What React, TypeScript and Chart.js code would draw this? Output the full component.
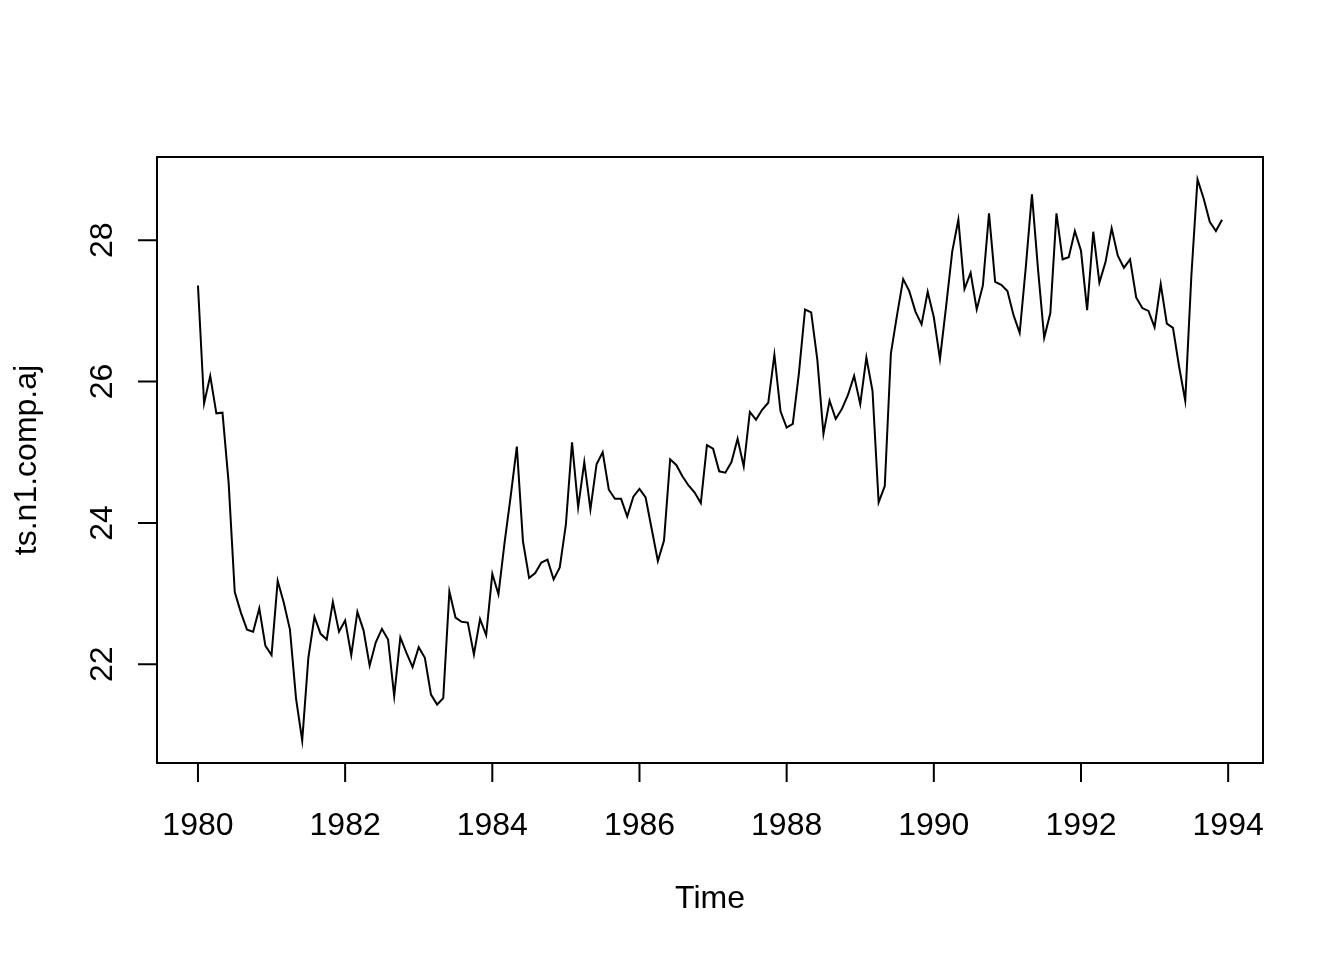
import React, { useEffect, useRef } from "react";
import { Chart, registerables } from "chart.js";

Chart.register(...registerables);

const startYear = 1980;
const frequency = 12;

const v1980 = [27.36, 25.69, 26.08, 25.55, 25.56, 24.57, 23.02, 22.73, 22.49, 22.46, 22.79, 22.26];
const v1981 = [22.13, 23.18, 22.87, 22.49, 21.51, 20.92, 22.09, 22.67, 22.43, 22.35, 22.88, 22.46];
const v1982 = [22.62, 22.13, 22.74, 22.48, 21.98, 22.31, 22.5, 22.35, 21.55, 22.38, 22.16, 21.96];
const v1983 = [22.24, 22.09, 21.57, 21.43, 21.52, 23.03, 22.66, 22.6, 22.59, 22.14, 22.64, 22.41];
const v1984 = [23.28, 22.99, 23.72, 24.38, 25.08, 23.74, 23.22, 23.29, 23.44, 23.48, 23.2, 23.37];
const v1985 = [23.98, 25.14, 24.22, 24.86, 24.19, 24.83, 25.0, 24.47, 24.34, 24.34, 24.09, 24.37];
const v1986 = [24.48, 24.36, 23.91, 23.46, 23.75, 24.9, 24.82, 24.66, 24.53, 24.43, 24.28, 25.1];
const v1987 = [25.05, 24.73, 24.71, 24.86, 25.19, 24.8, 25.57, 25.46, 25.6, 25.7, 26.38, 25.58];
const v1988 = [25.35, 25.4, 26.12, 27.02, 26.98, 26.31, 25.26, 25.73, 25.47, 25.61, 25.81, 26.08];
const v1989 = [25.68, 26.34, 25.87, 24.29, 24.52, 26.4, 26.94, 27.45, 27.28, 26.99, 26.81, 27.27];
const v1990 = [26.91, 26.32, 27.06, 27.84, 28.29, 27.31, 27.54, 27.02, 27.36, 28.38, 27.41, 27.37];
const v1991 = [27.28, 26.94, 26.69, 27.62, 28.65, 27.58, 26.62, 26.97, 28.38, 27.73, 27.76, 28.13];
const v1992 = [27.85, 27.01, 28.12, 27.4, 27.69, 28.17, 27.78, 27.61, 27.73, 27.19, 27.04, 27.0];
const v1993 = [26.77, 27.38, 26.82, 26.76, 26.21, 25.73, 27.5, 28.86, 28.59, 28.26, 28.13, 28.29];

const values = [
  ...v1980, ...v1981, ...v1982, ...v1983, ...v1984, ...v1985, ...v1986,
  ...v1987, ...v1988, ...v1989, ...v1990, ...v1991, ...v1992, ...v1993,
];

const xTicks = [1980, 1982, 1984, 1986, 1988, 1990, 1992, 1994];
const yTicks = [22, 24, 26, 28];
const xTitle = "Time";
const yTitle = "ts.n1.comp.aj";

const FONT = '32px "Liberation Sans", Arial, Helvetica, sans-serif';

const rAxesPlugin = {
  id: "rAxes",
  afterDraw(chart: any) {
    const ctx = chart.ctx;
    const area = chart.chartArea;
    const xs = chart.scales.x;
    const ys = chart.scales.y;
    ctx.save();
    ctx.strokeStyle = "#000";
    ctx.fillStyle = "#000";
    ctx.lineWidth = 2;
    // box
    ctx.strokeRect(area.left, area.top, area.right - area.left, area.bottom - area.top);
    // x axis
    const x0 = xs.getPixelForValue(xTicks[0]);
    const x1 = xs.getPixelForValue(xTicks[xTicks.length - 1]);
    ctx.beginPath();
    ctx.moveTo(x0, area.bottom);
    ctx.lineTo(x1, area.bottom);
    xTicks.forEach((t) => {
      const px = xs.getPixelForValue(t);
      ctx.moveTo(px, area.bottom);
      ctx.lineTo(px, area.bottom + 19);
    });
    // y axis
    const y0 = ys.getPixelForValue(yTicks[0]);
    const y1 = ys.getPixelForValue(yTicks[yTicks.length - 1]);
    ctx.moveTo(area.left, y0);
    ctx.lineTo(area.left, y1);
    yTicks.forEach((t) => {
      const py = ys.getPixelForValue(t);
      ctx.moveTo(area.left, py);
      ctx.lineTo(area.left - 19, py);
    });
    ctx.stroke();

    ctx.font = FONT;
    ctx.textAlign = "center";
    ctx.textBaseline = "alphabetic";
    xTicks.forEach((t) => {
      ctx.fillText(String(t), xs.getPixelForValue(t), area.bottom + 72);
    });
    yTicks.forEach((t) => {
      const py = ys.getPixelForValue(t);
      ctx.save();
      ctx.translate(area.left - 45, py);
      ctx.rotate(-Math.PI / 2);
      ctx.fillText(String(t), 0, 0);
      ctx.restore();
    });
    ctx.fillText(xTitle, (area.left + area.right) / 2, area.bottom + 145);
    ctx.save();
    ctx.translate(area.left - 121.5, (area.top + area.bottom) / 2);
    ctx.rotate(-Math.PI / 2);
    ctx.fillText(yTitle, 0, 0);
    ctx.restore();
    ctx.restore();
  },
};

export default function App() {
  const ref = useRef<HTMLCanvasElement | null>(null);

  useEffect(() => {
    if (!ref.current) return;
    const points = values.map((v, i) => ({ x: startYear + i / frequency, y: v }));
    const tEnd = startYear + (values.length - 1) / frequency;
    const xr = tEnd - startYear;
    const yMinD = Math.min(...values);
    const yMaxD = Math.max(...values);
    const yr = yMaxD - yMinD;
    const chart = new Chart(ref.current, {
      type: "line",
      data: {
        datasets: [
          {
            data: points,
            borderColor: "#000",
            borderWidth: 2,
            pointRadius: 0,
            tension: 0,
            fill: false,
          },
        ],
      },
      options: {
        animation: false,
        responsive: false,
        devicePixelRatio: 1,
        parsing: false as any,
        layout: { padding: { left: 157, right: 81, top: 157, bottom: 197 } },
        plugins: { legend: { display: false }, tooltip: { enabled: false } },
        scales: {
          x: { type: "linear", display: false, min: startYear - 0.04 * xr, max: tEnd + 0.04 * xr },
          y: { type: "linear", display: false, min: yMinD - 0.04 * yr, max: yMaxD + 0.04 * yr },
        },
      },
      plugins: [rAxesPlugin],
    });
    return () => chart.destroy();
  }, []);

  return (
    <div style={{ position: "fixed", left: 0, top: 0, width: 1344, height: 960, background: "#fff" }}>
      <canvas ref={ref} width={1344} height={960} style={{ width: 1344, height: 960 }} />
    </div>
  );
}
